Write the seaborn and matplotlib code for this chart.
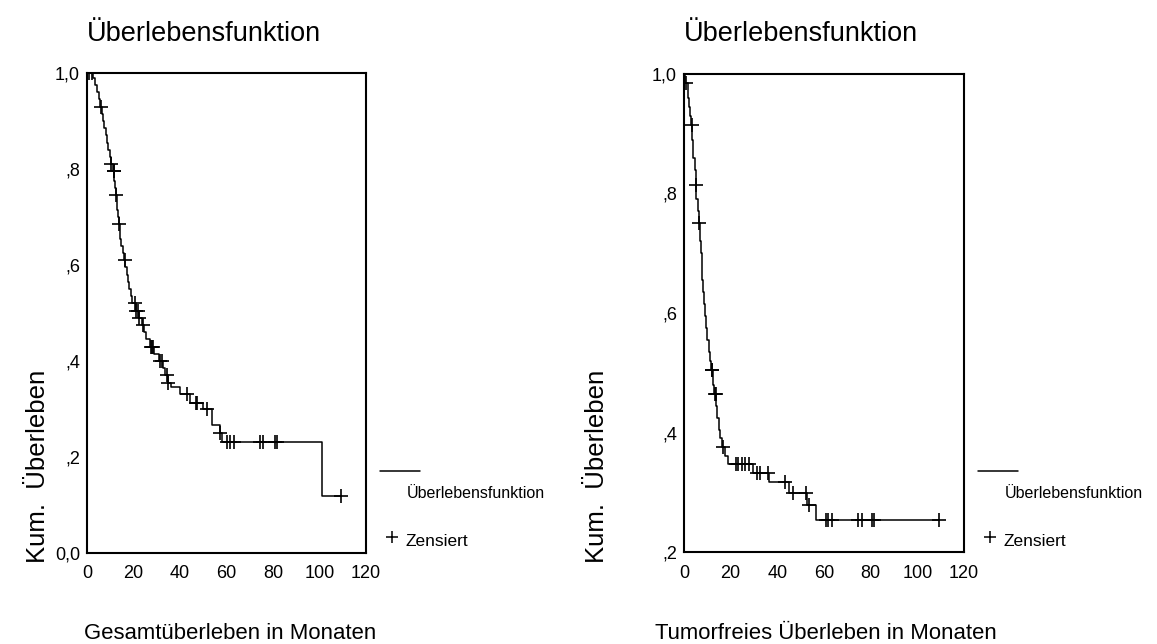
import numpy as np
import pandas as pd
import matplotlib
matplotlib.use('Agg')
import matplotlib.pyplot as plt
from matplotlib.lines import Line2D
import seaborn as sns

# Gesamtueberleben: event times (months) and survival after each step
os_time = [0, 2.5, 3.5, 4.5, 5.0, 5.5, 6.5, 7.0, 7.5, 8.0, 8.5, 9.0, 9.8, 10.5, 11.0, 11.8,
           12.2, 12.5, 12.8, 13.0, 13.3, 13.6, 14.0, 14.3, 14.8, 15.3, 16.0, 16.5, 17.0,
           17.5, 18.0, 18.8, 19.5, 21.0, 22.5, 23.5, 24.5, 25.5, 27.0, 29.0, 31.0, 32.5,
           33.5, 35.0, 36.0, 40.0, 44.5, 50.0, 53.6, 57.0, 58.0, 101.2]
os_surv = [1.0, 0.99, 0.975, 0.96, 0.945, 0.93, 0.915, 0.90, 0.885, 0.87, 0.855, 0.84, 0.825,
           0.81, 0.795, 0.775, 0.76, 0.745, 0.73, 0.715, 0.70, 0.685, 0.67, 0.655, 0.64, 0.625,
           0.61, 0.595, 0.58, 0.565, 0.55, 0.535, 0.52, 0.505, 0.49, 0.475, 0.46, 0.445, 0.43,
           0.415, 0.40, 0.385, 0.37, 0.355, 0.345, 0.331, 0.312, 0.301, 0.267, 0.250, 0.232, 0.119]
os_cens = [1.0, 2.3, 6.0, 10.5, 11.5, 11.7, 12.6, 13.6, 16.2, 20.6, 21.2, 21.8, 22.5, 24.2,
           27.4, 28.0, 28.5, 31.4, 32.1, 34.5, 35.0, 43.1, 46.9, 47.3, 51.5, 57.2, 60.1, 61.5,
           63.2, 74.4, 75.5, 80.9, 81.8, 109.1]

# Tumorfreies Ueberleben
dfs_time = [0, 0.5, 1.5, 2.0, 2.5, 3.0, 3.6, 4.0, 4.5, 5.0, 5.3, 5.8, 6.3, 6.8, 7.2, 7.5, 7.8,
            8.2, 8.6, 9.0, 9.5, 10.0, 10.5, 11.0, 11.5, 12.5, 13.0, 13.8, 14.3, 14.8, 15.5,
            16.2, 17.5, 19.0, 29.7, 36.3, 45.1, 52.9, 56.6]
dfs_surv = [1.0, 0.985, 0.96, 0.945, 0.93, 0.915, 0.89, 0.86, 0.84, 0.815, 0.79, 0.77, 0.75,
            0.72, 0.70, 0.68, 0.655, 0.635, 0.615, 0.595, 0.575, 0.555, 0.535, 0.52, 0.505,
            0.48, 0.465, 0.445, 0.425, 0.405, 0.39, 0.375, 0.36, 0.347, 0.332, 0.317, 0.299,
            0.279, 0.254]
dfs_cens = [0.9, 3.3, 5.1, 6.6, 11.9, 12.2, 13.3, 13.7, 16.6, 22.3, 23.3, 24.7, 26.1, 28.0,
            31.2, 32.6, 36.1, 43.3, 46.6, 52.3, 53.5, 60.9, 61.9, 63.3, 74.4, 76.4, 80.4,
            81.4, 109.4]

x_ticks = [0, 20, 40, 60, 80, 100, 120]
os_yticks = [0.0, 0.2, 0.4, 0.6, 0.8, 1.0]
os_ylabels = ['0,0', ',2', ',4', ',6', ',8', '1,0']
dfs_yticks = [0.2, 0.4, 0.6, 0.8, 1.0]
dfs_ylabels = [',2', ',4', ',6', ',8', '1,0']

titel = 'Überlebensfunktion'
y_label = 'Kum.  Überleben'

sns.set_style('white')
plt.rcParams['font.family'] = ['Liberation Sans', 'DejaVu Sans']
plt.rcParams['text.color'] = 'black'
plt.rcParams['xtick.color'] = 'black'
plt.rcParams['ytick.color'] = 'black'

fig = plt.figure(figsize=(11.57, 6.44), dpi=100)


def km_panel(rect, times, surv, cens, yticks, ylabels, ylim, xlabel, xlab_x, ylab_x, leg_x):
    ax = fig.add_axes(rect)
    # step curve, runs on to the last censored case
    t = list(times) + [max(cens)]
    s = list(surv) + [surv[-1]]
    curve = pd.DataFrame({'t': t, 's': s})
    sns.lineplot(data=curve, x='t', y='s', drawstyle='steps-post', color='black',
                 linewidth=1.1, estimator=None, sort=False, ax=ax)
    idx = np.searchsorted(times, cens, side='right') - 1
    cdf = pd.DataFrame({'t': cens, 's': np.array(surv)[idx]})
    sns.scatterplot(data=cdf, x='t', y='s', marker='+', s=90, color='black',
                    linewidth=1.2, ax=ax)
    ax.set_xlim(0, 120)
    ax.set_ylim(*ylim)
    ax.set_xticks(x_ticks)
    ax.set_xticklabels([str(v) for v in x_ticks])
    ax.set_yticks(yticks)
    ax.set_yticklabels(ylabels)
    ax.set_xlabel('')
    ax.set_ylabel('')
    for sp in ax.spines.values():
        sp.set_color('black')
        sp.set_linewidth(1.5)
    ax.tick_params(direction='inout', length=4, width=3, labelsize=13, colors='black')
    ax.tick_params(axis='x', pad=7)
    ax.tick_params(axis='y', pad=3)
    # texts around the box
    fig.text(rect[0], 0.947, titel, fontsize=19.5, va='center', ha='left')
    fig.text(xlab_x, 0.017, xlabel, fontsize=15.9, va='center', ha='center')
    fig.text(ylab_x, 0.276, y_label, fontsize=18.5, va='center', ha='center', rotation=90)
    # legend drawn by hand like the original
    y_line = 1 - 471 / 644
    fig.add_artist(Line2D([leg_x, leg_x + 40 / 1157], [y_line, y_line], color='black',
                          linewidth=1.1, transform=fig.transFigure))
    fig.text(leg_x + 27 / 1157, 1 - 493 / 644, titel, fontsize=11.5, va='center', ha='left')
    fig.add_artist(Line2D([leg_x + 12 / 1157], [1 - 537 / 644], marker='+', markersize=9,
                          markeredgewidth=1.1, color='black', linestyle='none',
                          transform=fig.transFigure))
    fig.text(leg_x + 25 / 1157, 1 - 541 / 644, 'Zensiert', fontsize=12.5, va='center', ha='left')
    return ax


km_panel([87 / 1157, 1 - 553 / 644, 279 / 1157, 480 / 644], os_time, os_surv, os_cens,
         os_yticks, os_ylabels, (0, 1), 'Gesamtüberleben in Monaten',
         230 / 1157, 38 / 1157, 380 / 1157)
km_panel([684 / 1157, 1 - 552 / 644, 280 / 1157, 478 / 644], dfs_time, dfs_surv, dfs_cens,
         dfs_yticks, dfs_ylabels, (0.2, 1.0), 'Tumorfreies Überleben in Monaten',
         826 / 1157, 597 / 1157, 978 / 1157)

plt.savefig('out.png', dpi=100)
